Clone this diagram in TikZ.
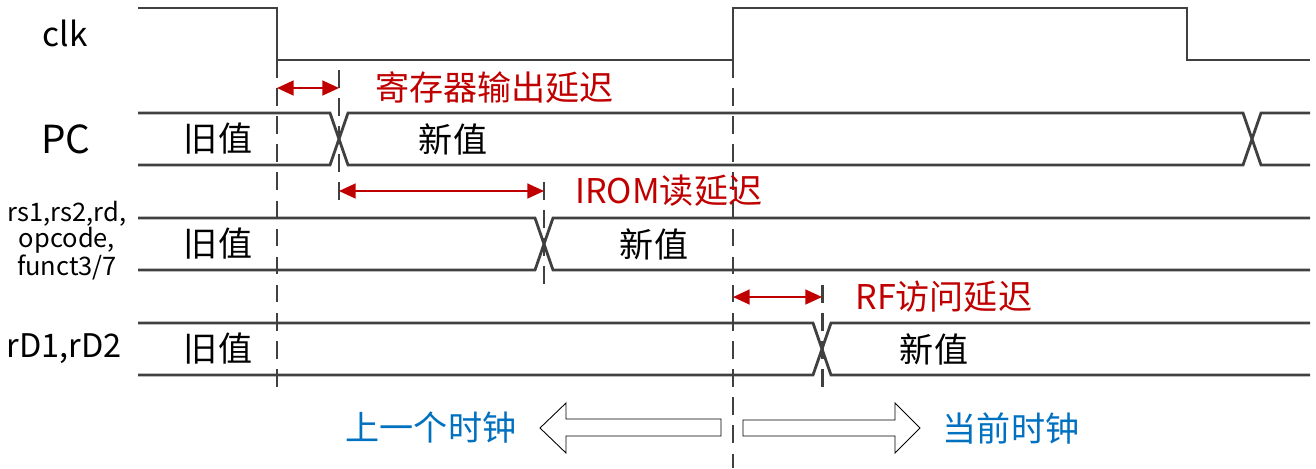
\documentclass[tikz,border=0pt]{standalone}
\usepackage{fontspec}
\setmainfont{Noto Sans CJK SC}
\usetikzlibrary{arrows.meta, positioning}
\definecolor{mysig}{RGB}{64,64,64}
\definecolor{myred}{RGB}{192,0,0}
\definecolor{myblue}{RGB}{0,112,192}
\tikzset{
  sig/.style={line width=1.6pt, color=mysig},
  guide/.style={line width=1.7pt, color=mysig, dash pattern=on 10pt off 6pt},
  delay/.style={{Triangle[length=9.5pt,width=8.5pt]}-{Triangle[length=9.5pt,width=8.5pt]},
    line width=1.1pt, color=myred},
  delaylabel/.style={anchor=west, inner sep=0pt, color=myred,
    font=\fontsize{19.4}{22}\selectfont},
  siglabel/.style={inner sep=0pt, font=\fontsize{22}{24}\selectfont},
  val/.style={inner sep=0pt, font=\fontsize{19.4}{22}\selectfont},
  period/.style={inner sep=0pt, color=myblue, font=\fontsize{19.4}{22}\selectfont},
  blockarrow/.style={draw=black, line width=0.5pt, fill=white}
}

\begin{document}
\begin{tikzpicture}[x=0.02cm, y=-0.02cm]
  \useasboundingbox (0,0) rectangle (1316,468);

  % Signal names
  \node[siglabel, font=\fontsize{19}{22}\selectfont] (clk) at (65,33) {clk};
  \node[siglabel] (pc) at (66,139) {PC};
  \node[siglabel, font=\fontsize{14.5}{14.8}\selectfont, align=center] (inst) at (67,241) {rs1,rs2,rd,\\opcode,\\funct3/7};
  \node[siglabel, font=\fontsize{18.5}{22}\selectfont] (rd) at (64,349) {rD1,rD2};

  % Clock
  \draw[sig] (138,8) -- (277,8) -- (277,60) -- (733,60) -- (733,8)
    -- (1187,8) -- (1187,60) -- (1310,60);

  % PC bus
  \draw[sig] (138,113) -- (330,113) -- (348,165) -- (1243,165) -- (1261,113) -- (1310,113);
  \draw[sig] (138,165) -- (330,165) -- (348,113) -- (1243,113) -- (1261,165) -- (1310,165);
  \node[val] (pcold) at (218,139) {旧值};
  \node[val] (pcnew) at (453,139) {新值};

  % Instruction fields bus
  \draw[sig] (138,218) -- (535,218) -- (553,270) -- (1310,270);
  \draw[sig] (138,270) -- (535,270) -- (553,218) -- (1310,218);
  \node[val] (instold) at (218,244) {旧值};
  \node[val] (instnew) at (654,244) {新值};

  % Register file outputs bus
  \draw[sig] (138,323) -- (813,323) -- (831,375) -- (1310,375);
  \draw[sig] (138,375) -- (813,375) -- (831,323) -- (1310,323);
  \node[val] (rdold) at (218,349) {旧值};
  \node[val] (rdnew) at (934,349) {新值};

  % Dashed guides
  \draw[guide] (277,60) -- (277,393);
  \draw[guide] (339,70) -- (339,200);
  \draw[guide] (544,182) -- (544,288);
  \draw[guide] (733,60) -- (733,468);
  \draw[guide] (822,285) -- (822,393);

  % Delay arrows
  \coordinate (regs) at (277,88);
  \coordinate (rege) at (339,88);
  \draw[delay] (regs) -- (rege);
  \node[delaylabel] (reglbl) at (375,88) {寄存器输出延迟};

  \coordinate (roms) at (339,191);
  \coordinate (rome) at (544,191);
  \draw[delay] (roms) -- (rome);
  \node[delaylabel] (romlbl) at (575,191) {IROM读延迟};

  \coordinate (rfs) at (733,297);
  \coordinate (rfe) at (822,297);
  \draw[delay] (rfs) -- (rfe);
  \node[delaylabel] (rflbl) at (855,297) {RF访问延迟};

  % Clock periods
  \draw[blockarrow] (540,428) -- (566,403) -- (566,419) -- (721,419)
    -- (721,436) -- (566,436) -- (566,453) -- cycle;
  \draw[blockarrow] (920,428) -- (895,403) -- (895,420) -- (743,420)
    -- (743,436) -- (895,436) -- (895,453) -- cycle;
  \node[period] (prev) at (431,428) {上一个时钟};
  \node[period] (curr) at (1011,428) {当前时钟};
\end{tikzpicture}
\end{document}
